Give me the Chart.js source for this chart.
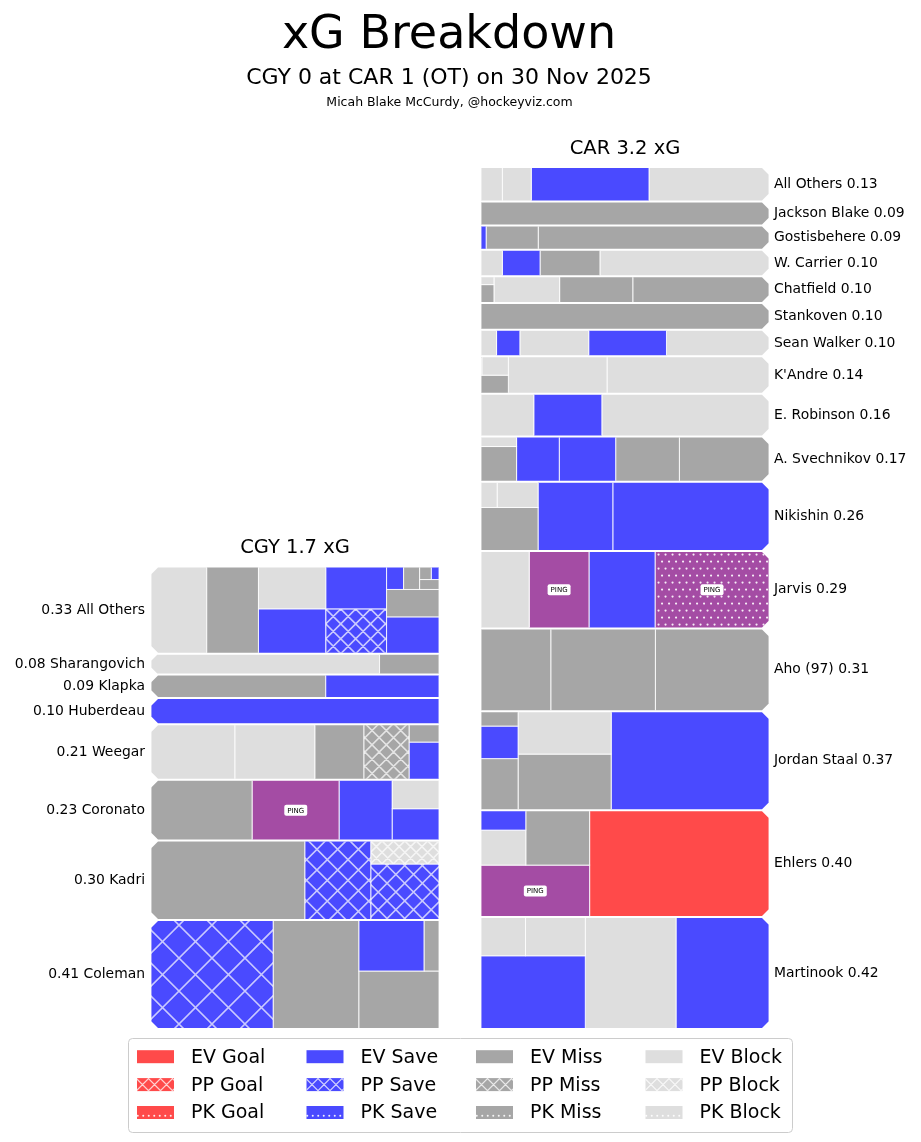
<!DOCTYPE html>
<html>
<head>
<meta charset="utf-8">
<script src="https://cdn.jsdelivr.net/npm/chart.js@4.4.1/dist/chart.umd.min.js"></script>
<style>
  html, body { margin: 0; padding: 0; background: #fff; }
</style>
</head>
<body>
<canvas id="xg" width="921" height="1142"></canvas>
<script>
// Calgary rows, bottom to top; one entry per shot (xG, type)
const cgyPlayers = ['Coleman', 'Kadri', 'Coronato', 'Weegar', 'Huberdeau', 'Klapka', 'Sharangovich', 'All Others'];
const cgyShotXg = [
  [0.1733, 0.1214, 0.0604, 0.0432, 0.0098],
  [0.1593, 0.0683, 0.0497, 0.0207],
  [0.0802, 0.0689, 0.0420, 0.0194, 0.0176],
  [0.0607, 0.0578, 0.0354, 0.0327, 0.0146, 0.0069],
  [0.098],
  [0.0534, 0.0346],
  [0.0619, 0.0161],
  [0.0634, 0.0588, 0.0395, 0.0372, 0.0355, 0.0335, 0.0252, 0.0187, 0.0051, 0.0048, 0.0025, 0.0020, 0.0013]
];
const cgyShotType = [
  ['PP Save', 'EV Miss', 'EV Miss', 'EV Save', 'EV Miss'],
  ['EV Miss', 'PP Save', 'PP Save', 'PP Block'],
  ['EV Miss', 'EV Ping', 'EV Save', 'EV Save', 'EV Block'],
  ['EV Block', 'EV Block', 'EV Miss', 'PP Miss', 'EV Save', 'EV Miss'],
  ['EV Save'],
  ['EV Miss', 'EV Save'],
  ['EV Block', 'EV Miss'],
  ['EV Block', 'EV Miss', 'EV Save', 'EV Block', 'PP Save', 'EV Save', 'EV Save', 'EV Miss', 'EV Save', 'EV Miss', 'EV Miss', 'EV Miss', 'EV Save']
];

// Carolina rows, bottom to top
const carPlayers = ['Martinook', 'Ehlers', 'Jordan Staal', 'Aho (97)', 'Jarvis', 'Nikishin', 'A. Svechnikov', 'E. Robinson',
  "K'Andre", 'Sean Walker', 'Stankoven', 'Chatfield', 'W. Carrier', 'Gostisbehere', 'Jackson Blake', 'All Others'];
const carShotXg = [
  [0.1356, 0.1323, 0.0994, 0.0302, 0.0225],
  [0.2492, 0.0733, 0.0456, 0.0204, 0.0116],
  [0.2035, 0.0680, 0.0520, 0.0249, 0.0157, 0.0072],
  [0.1223, 0.1126, 0.0751],
  [0.1147, 0.0665, 0.0602, 0.0485],
  [0.1410, 0.0675, 0.0324, 0.0137, 0.0054],
  [0.0529, 0.0376, 0.0333, 0.0252, 0.0163, 0.0047],
  [0.0928, 0.0378, 0.0293],
  [0.0788, 0.0480, 0.0066, 0.0065, 0.0002],
  [0.0356, 0.0270, 0.0239, 0.0081, 0.0054],
  [0.10],
  [0.0473, 0.0254, 0.0228, 0.0031, 0.0014],
  [0.0587, 0.0208, 0.0131, 0.0074],
  [0.0722, 0.0163, 0.0016],
  [0.09],
  [0.0540, 0.0530, 0.0130, 0.0096]
];
const carShotType = [
  ['EV Save', 'EV Block', 'EV Save', 'EV Block', 'EV Block'],
  ['EV Goal', 'EV Ping', 'EV Miss', 'EV Block', 'EV Save'],
  ['EV Save', 'EV Miss', 'EV Block', 'EV Miss', 'EV Save', 'EV Miss'],
  ['EV Miss', 'EV Miss', 'EV Miss'],
  ['PK Ping', 'EV Save', 'EV Ping', 'EV Block'],
  ['EV Save', 'EV Save', 'EV Miss', 'EV Block', 'EV Block'],
  ['EV Miss', 'EV Miss', 'EV Save', 'EV Save', 'EV Miss', 'EV Block'],
  ['EV Block', 'EV Save', 'EV Block'],
  ['EV Block', 'EV Block', 'EV Miss', 'EV Block', 'EV Miss'],
  ['EV Block', 'EV Save', 'EV Block', 'EV Save', 'EV Block'],
  ['EV Miss'],
  ['EV Miss', 'EV Miss', 'EV Block', 'EV Miss', 'EV Block'],
  ['EV Block', 'EV Miss', 'EV Save', 'EV Block'],
  ['EV Miss', 'EV Miss', 'EV Save'],
  ['EV Miss'],
  ['EV Block', 'EV Save', 'EV Block', 'EV Block']
];

const strengths = ['EV', 'PP', 'PK'];
const outcomes = ['Goal', 'Save', 'Miss', 'Block'];

const colors = { Goal: '#ff4a4a', Save: '#4a4aff', Miss: '#a6a6a6', Block: '#dedede', Ping: '#a44ca4' };
const FONT = "'DejaVu Sans', sans-serif";
const GAP = 42 / 288;   // space between the two panels, in panel widths

const sum = a => a.reduce((s, v) => s + v, 0);
const cgyRowXg = cgyShotXg.map(sum);
const carRowXg = carShotXg.map(sum);
const cgyTotal = sum(cgyRowXg);
const carTotal = sum(carRowXg);

// squarify (Bruls et al.), same as the python package
function layoutRow(sizes, x, y, dx, dy) {
  const w = sum(sizes) / dy;
  const out = [];
  for (const s of sizes) { out.push({ x, y, dx: w, dy: s / w }); y += s / w; }
  return out;
}
function layoutCol(sizes, x, y, dx, dy) {
  const h = sum(sizes) / dx;
  const out = [];
  for (const s of sizes) { out.push({ x, y, dx: s / h, dy: h }); x += s / h; }
  return out;
}
function layout(sizes, x, y, dx, dy) {
  return dx >= dy ? layoutRow(sizes, x, y, dx, dy) : layoutCol(sizes, x, y, dx, dy);
}
function leftover(sizes, x, y, dx, dy) {
  if (dx >= dy) { const w = sum(sizes) / dy; return { x: x + w, y, dx: dx - w, dy }; }
  const h = sum(sizes) / dx; return { x, y: y + h, dx, dy: dy - h };
}
function worst(sizes, x, y, dx, dy) {
  return Math.max(...layout(sizes, x, y, dx, dy).map(r => Math.max(r.dx / r.dy, r.dy / r.dx)));
}
function squarify(sizes, x, y, dx, dy) {
  if (sizes.length === 0) return [];
  if (sizes.length === 1) return layout(sizes, x, y, dx, dy);
  let i = 1;
  while (i < sizes.length && worst(sizes.slice(0, i), x, y, dx, dy) >= worst(sizes.slice(0, i + 1), x, y, dx, dy)) i++;
  const lo = leftover(sizes.slice(0, i), x, y, dx, dy);
  return layout(sizes.slice(0, i), x, y, dx, dy).concat(squarify(sizes.slice(i), lo.x, lo.y, lo.dx, lo.dy));
}

function hatchCross(ctx, x, y, w, h, spacing, color, lw) {
  ctx.save();
  ctx.beginPath(); ctx.rect(x, y, w, h); ctx.clip();
  ctx.strokeStyle = color; ctx.lineWidth = lw;
  ctx.beginPath();
  for (let k = -h; k < w + h; k += spacing) {
    ctx.moveTo(x + k, y); ctx.lineTo(x + k + h, y + h);
    ctx.moveTo(x + k, y + h); ctx.lineTo(x + k + h, y);
  }
  ctx.stroke();
  ctx.restore();
}
function dots(ctx, x, y, w, h, spacing, r) {
  ctx.save();
  ctx.beginPath(); ctx.rect(x, y, w, h); ctx.clip();
  ctx.fillStyle = 'rgba(255,255,255,0.9)';
  let row = 0;
  for (let yy = y + spacing / 2; yy < y + h; yy += spacing, row++) {
    for (let xx = x + (row % 2 ? spacing : spacing / 2); xx < x + w; xx += spacing) {
      ctx.beginPath(); ctx.arc(xx, yy, r, 0, Math.PI * 2); ctx.fill();
    }
  }
  ctx.restore();
}
function roundRect(ctx, x, y, w, h, r) {
  ctx.beginPath();
  ctx.moveTo(x + r, y); ctx.lineTo(x + w - r, y); ctx.arcTo(x + w, y, x + w, y + r, r);
  ctx.lineTo(x + w, y + h - r); ctx.arcTo(x + w, y + h, x + w - r, y + h, r);
  ctx.lineTo(x + r, y + h); ctx.arcTo(x, y + h, x, y + h - r, r);
  ctx.lineTo(x, y + r); ctx.arcTo(x, y, x + r, y, r);
  ctx.closePath();
}

function fillShot(ctx, type, x, y, w, h) {
  const [str, out] = type.split(' ');
  ctx.fillStyle = colors[out];
  ctx.fillRect(x, y, w, h);
  if (str === 'PP') {
    const sp = Math.max(8, Math.sqrt(w * h) / 3.5);
    hatchCross(ctx, x, y, w, h, sp, 'rgba(255,255,255,0.7)', 1.6);
  } else if (str === 'PK') {
    dots(ctx, x, y, w, h, 7, 1.1);
  }
  if (out === 'Ping') {
    ctx.font = '7px ' + FONT;
    const tw = ctx.measureText('PING').width;
    ctx.fillStyle = '#fff';
    roundRect(ctx, x + w / 2 - tw / 2 - 3, y + h / 2 - 5.5, tw + 6, 11, 2);
    ctx.fill();
    ctx.fillStyle = '#000';
    ctx.textAlign = 'center'; ctx.textBaseline = 'middle';
    ctx.fillText('PING', x + w / 2, y + h / 2 + 0.5);
  }
}

function drawTeam(chart, team) {
  const ctx = chart.ctx;
  const xs = chart.scales.x, ys = chart.scales.y;
  const mirror = team.side === 'right';
  const x0 = team.x0;
  let yb = 0;
  team.rows.forEach((shots, r) => {
    const h = team.rowXg[r];
    const L = xs.getPixelForValue(x0), R = xs.getPixelForValue(x0 + 1);
    const T = ys.getPixelForValue(yb + h) + 1, B = ys.getPixelForValue(yb) - 1;
    const c = Math.min(7, (B - T) / 3);
    ctx.save();
    ctx.beginPath();
    if (mirror) {
      ctx.moveTo(L, T); ctx.lineTo(R - c, T); ctx.lineTo(R, T + c); ctx.lineTo(R, B - c); ctx.lineTo(R - c, B); ctx.lineTo(L, B);
    } else {
      ctx.moveTo(R, T); ctx.lineTo(L + c, T); ctx.lineTo(L, T + c); ctx.lineTo(L, B - c); ctx.lineTo(L + c, B); ctx.lineTo(R, B);
    }
    ctx.closePath();
    ctx.clip();

    // largest shot first, laid out from the name side and from the bottom
    const order = shots.map((v, i) => i).sort((a, b) => shots[b] - shots[a]);
    const sizes = order.map(i => shots[i]);
    const rects = squarify(sizes, 0, 0, 1, h);
    rects.forEach((q, k) => {
      const type = team.types[r][order[k]];
      const ux = mirror ? x0 + 1 - q.x - q.dx : x0 + q.x;
      const px1 = xs.getPixelForValue(ux), px2 = xs.getPixelForValue(ux + q.dx);
      const py1 = ys.getPixelForValue(yb + q.y + q.dy), py2 = ys.getPixelForValue(yb + q.y);
      fillShot(ctx, type, px1, py1, px2 - px1, py2 - py1);
      ctx.strokeStyle = 'rgba(255,255,255,0.85)';
      ctx.lineWidth = 1;
      ctx.strokeRect(px1, py1, px2 - px1, py2 - py1);
    });
    ctx.restore();

    // row label
    ctx.fillStyle = '#000';
    ctx.font = '13.9px ' + FONT;
    ctx.textBaseline = 'middle';
    const ym = (T + B) / 2;
    if (mirror) {
      ctx.textAlign = 'left';
      ctx.fillText(team.names[r] + ' ' + h.toFixed(2), R + 5, ym);
    } else {
      ctx.textAlign = 'right';
      ctx.fillText(h.toFixed(2) + ' ' + team.names[r], L - 6, ym);
    }
    yb += h;
  });
  // panel title
  ctx.fillStyle = '#000';
  ctx.font = '19.5px ' + FONT;
  ctx.textAlign = 'center';
  ctx.textBaseline = 'alphabetic';
  const cx = (xs.getPixelForValue(x0) + xs.getPixelForValue(x0 + 1)) / 2;
  ctx.fillText(team.code + ' ' + team.total.toFixed(1) + ' xG', cx, ys.getPixelForValue(team.total) - 13);
}

function drawLegend(ctx) {
  ctx.save();
  ctx.strokeStyle = '#cccccc'; ctx.lineWidth = 1;
  roundRect(ctx, 128.5, 1038.5, 664, 94, 4);
  ctx.fillStyle = 'rgba(255,255,255,0.8)'; ctx.fill(); ctx.stroke();
  outcomes.forEach((out, c) => {
    strengths.forEach((str, r) => {
      const x = 137 + c * 169.5, yc = 1056.7 + r * 27.9;
      ctx.fillStyle = colors[out];
      ctx.fillRect(x, yc - 6.5, 37, 13);
      if (str === 'PP') hatchCross(ctx, x, yc - 6.5, 37, 13, 12, 'rgba(255,255,255,0.75)', 1.3);
      if (str === 'PK') dots(ctx, x - 2, yc + 0.5, 40, 7, 5.5, 1);
      ctx.fillStyle = '#000';
      ctx.font = '19px ' + FONT;
      ctx.textAlign = 'left'; ctx.textBaseline = 'middle';
      ctx.fillText(str + ' ' + out, x + 54, yc + 1);
    });
  });
  ctx.restore();
}

const breakdownPlugin = {
  id: 'breakdown',
  afterDraw(chart) {
    const ctx = chart.ctx;
    ctx.save();
    drawTeam(chart, { side: 'left', x0: 0, rows: cgyShotXg, types: cgyShotType, names: cgyPlayers, rowXg: cgyRowXg, total: cgyTotal, code: 'CGY' });
    drawTeam(chart, { side: 'right', x0: 1 + GAP, rows: carShotXg, types: carShotType, names: carPlayers, rowXg: carRowXg, total: carTotal, code: 'CAR' });
    ctx.fillStyle = '#000';
    ctx.textAlign = 'center'; ctx.textBaseline = 'alphabetic';
    ctx.font = '46px ' + FONT;
    ctx.fillText('xG Breakdown', 449, 48);
    ctx.font = '22px ' + FONT;
    ctx.fillText('CGY 0 at CAR 1 (OT) on 30 Nov 2025', 449, 84);
    ctx.font = '12.5px ' + FONT;
    ctx.fillText('Micah Blake McCurdy, @hockeyviz.com', 449.5, 106);
    drawLegend(ctx);
    ctx.restore();
  }
};

new Chart(document.getElementById('xg'), {
  type: 'scatter',
  data: { datasets: [] },
  options: {
    responsive: false,
    animation: false,
    layout: { padding: { left: 151, right: 152, top: 167, bottom: 113 } },
    scales: {
      x: { type: 'linear', min: 0, max: 2 + GAP, display: false },
      y: { type: 'linear', min: 0, max: carTotal, display: false }
    },
    plugins: { legend: { display: false }, tooltip: { enabled: false } }
  },
  plugins: [breakdownPlugin]
});
</script>
</body>
</html>
